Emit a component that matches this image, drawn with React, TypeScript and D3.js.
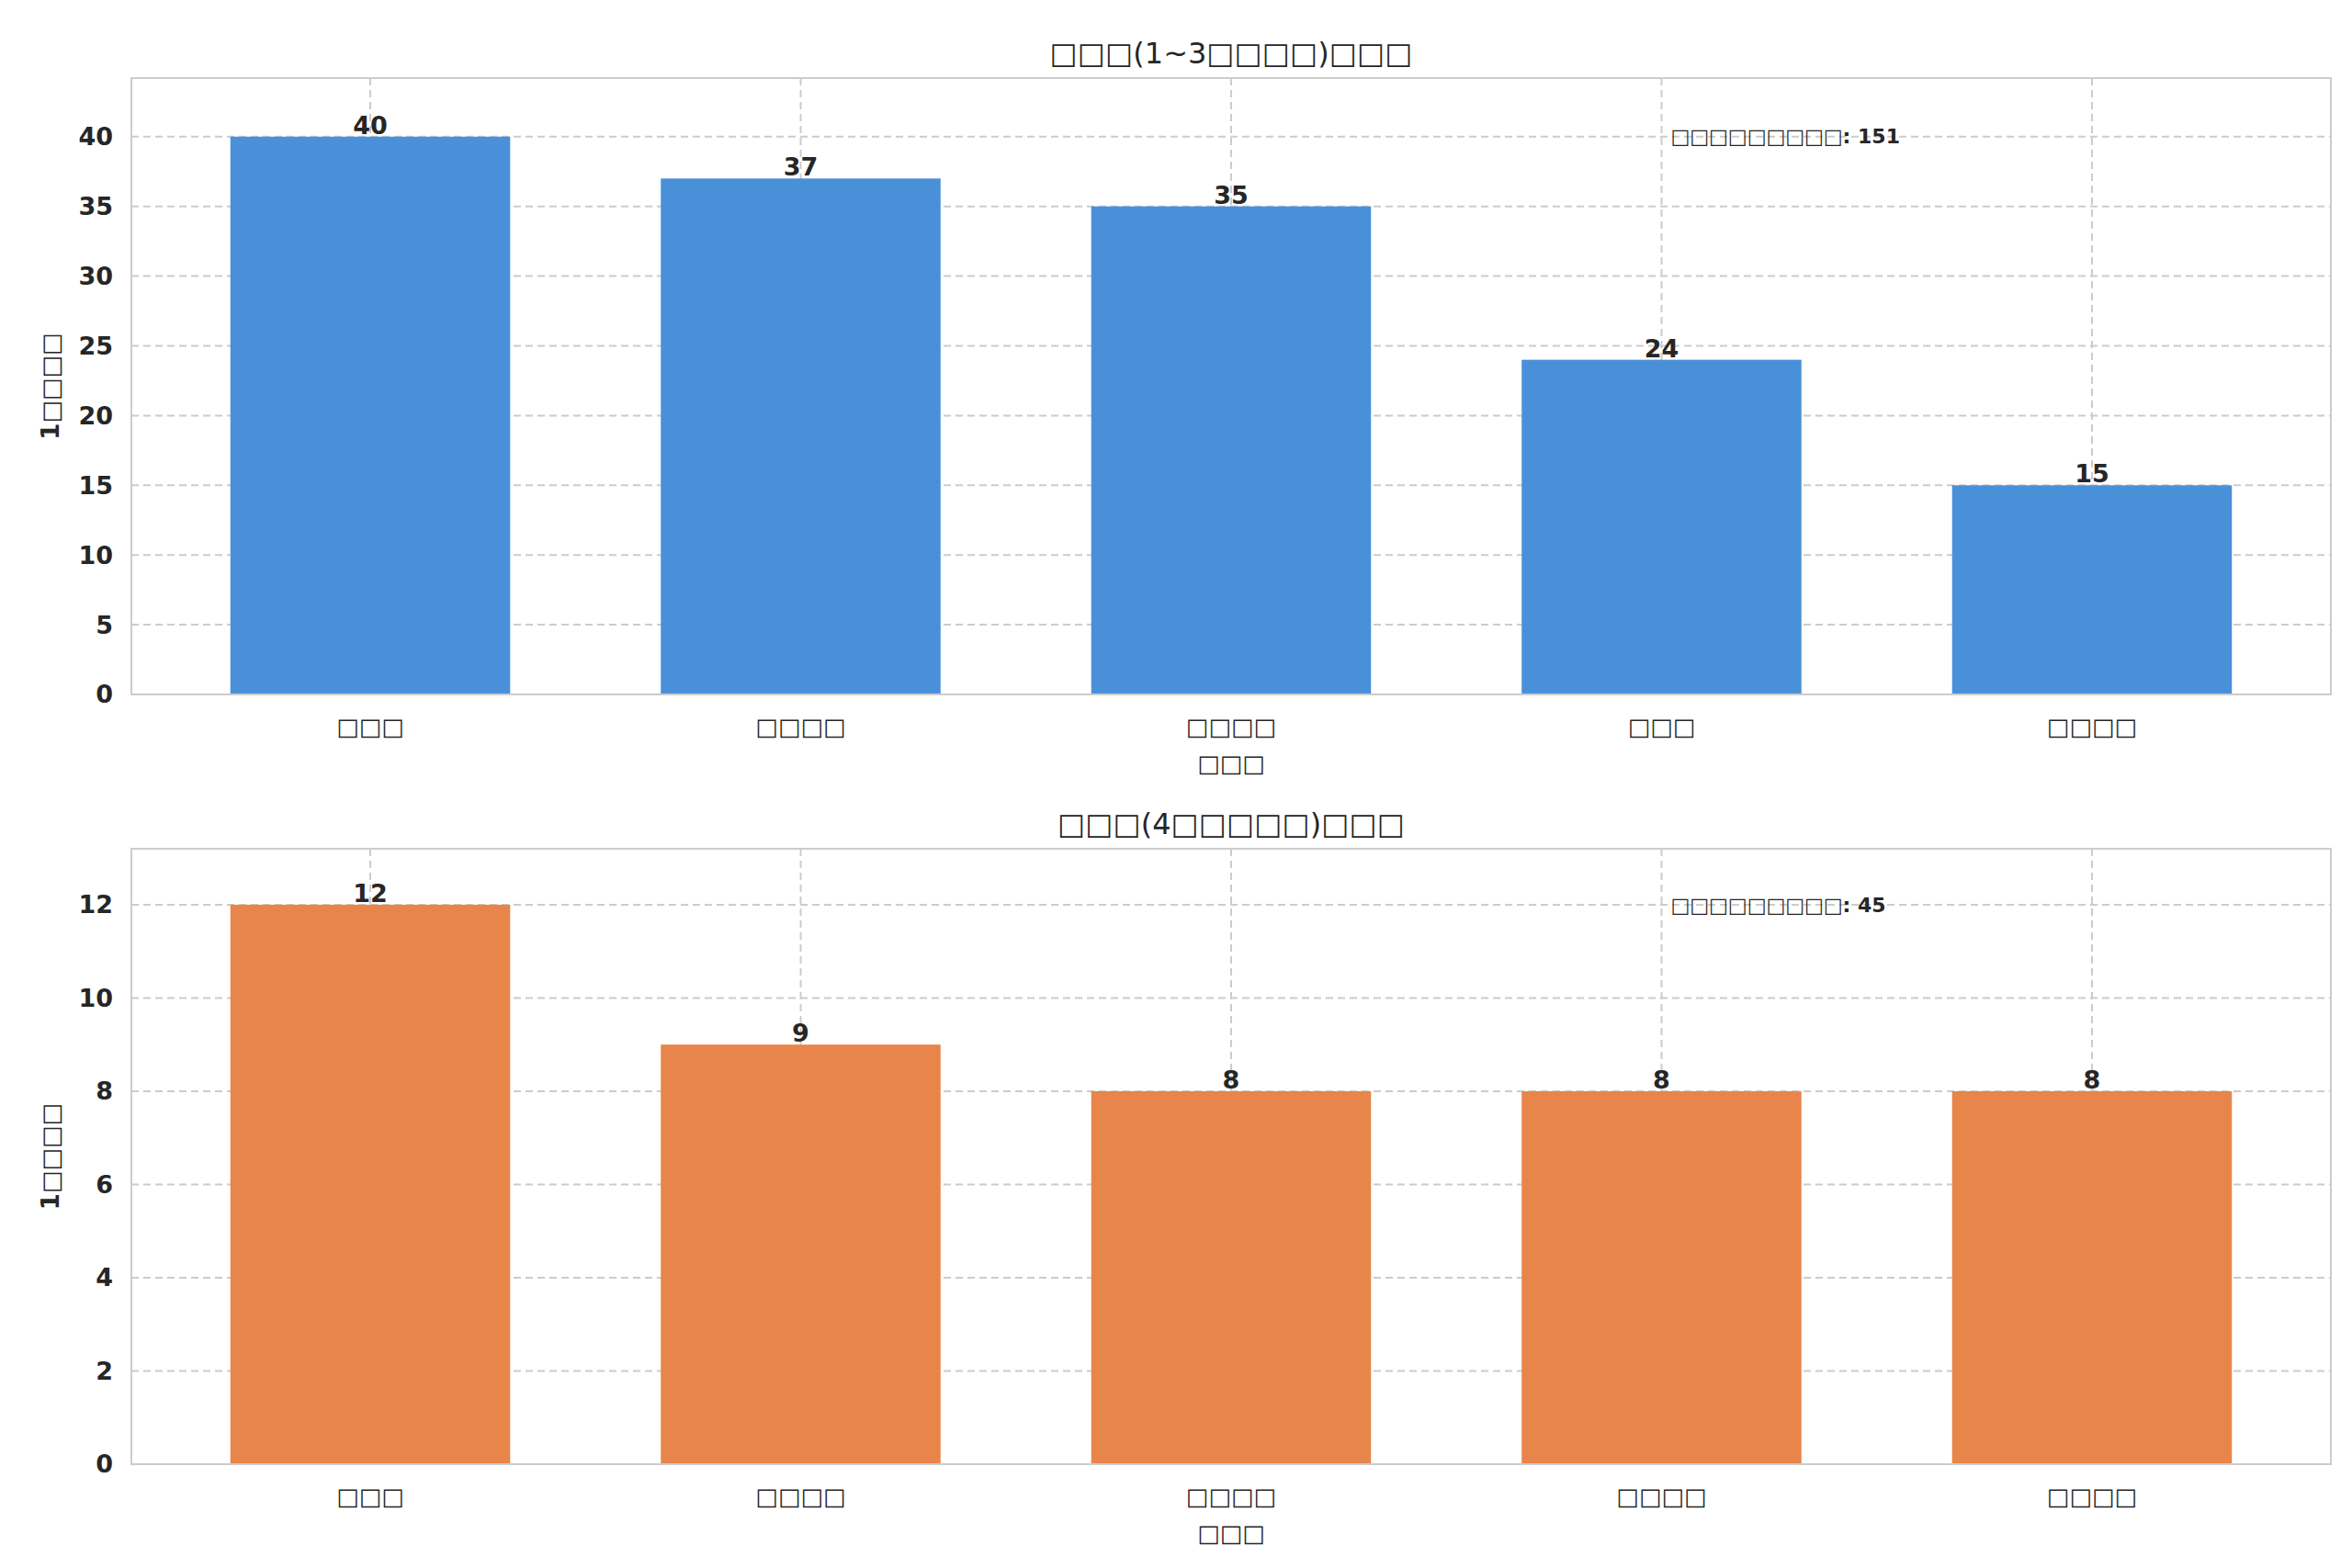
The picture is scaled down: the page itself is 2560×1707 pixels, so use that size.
import React from 'react';
import * as d3 from 'd3';

const B = '\u25A1';
const sq = (n: number) => B.repeat(n);

const topCats = [sq(3), sq(4), sq(4), sq(3), sq(4)];
const topVals = [40, 37, 35, 24, 15];
const topTicks = [0, 5, 10, 15, 20, 25, 30, 35, 40];
const botCats = [sq(3), sq(4), sq(4), sq(4), sq(4)];
const botVals = [12, 9, 8, 8, 8];
const botTicks = [0, 2, 4, 6, 8, 10, 12];

const W = 2560, H = 1707;
const font = '"DejaVu Sans", sans-serif';
const txt = '#262626';

function Panel({ top, bottom, cats, vals, ticks, ymax, color, title, note }: any) {
  const left = 135, right = 2529;
  const x = d3.scaleLinear().domain([-0.555, cats.length - 1 + 0.555]).range([left, right]);
  const y = d3.scaleLinear().domain([0, ymax]).range([bottom, top]);
  const bw = (x(1) - x(0)) * 0.65;
  const dash = '8,5';
  return (
    <g fontFamily={font}>
      {ticks.map((t: number) => (
        <line key={'gy' + t} x1={left} x2={right} y1={y(t)} y2={y(t)} stroke="#cccccc" strokeWidth={2} strokeDasharray={dash} />
      ))}
      {cats.map((_: string, i: number) => (
        <line key={'gx' + i} x1={x(i)} x2={x(i)} y1={top} y2={bottom} stroke="#cccccc" strokeWidth={2} strokeDasharray={dash} />
      ))}
      {vals.map((v: number, i: number) => (
        <g key={'b' + i}>
          <rect x={x(i) - bw / 2} y={y(v)} width={bw} height={y(0) - y(v)} fill={color} />
          <text x={x(i)} y={y(v) - 3} textAnchor="middle" fontSize={27} fontWeight="bold" fill={txt}>{v}</text>
          <text x={x(i)} y={bottom + 44} textAnchor="middle" fontSize={26} fill={txt}>{cats[i]}</text>
        </g>
      ))}
      <rect x={left} y={top} width={right - left} height={bottom - top} fill="none" stroke="#cccccc" strokeWidth={2} />
      {ticks.map((t: number) => (
        <text key={'ty' + t} x={left - 20} y={y(t)} dy="0.35em" textAnchor="end" fontSize={27} fontWeight="bold" fill={txt}>{t}</text>
      ))}
      <text x={(left + right) / 2} y={top - 16} textAnchor="middle" fontSize={32} fill={txt}>{title}</text>
      <text x={(left + right) / 2} y={bottom + 84} textAnchor="middle" fontSize={26} fill={txt}>{sq(3)}</text>
      <text transform={`translate(56,${(top + bottom) / 2}) rotate(-90)`} textAnchor="middle" fontSize={26} fontWeight="bold" fill={txt}>{'1' + sq(4)}</text>
      <text x={x(3) + 10} y={y(vals[0])} dy="0.35em" fontSize={22} fontWeight="bold" fill={txt}>{note}</text>
    </g>
  );
}

export default function App() {
  return (
    <svg width={W} height={H} style={{ display: 'block', background: '#fff' }}>
      <Panel top={77} bottom={748} cats={topCats} vals={topVals} ticks={topTicks} ymax={44.2} color="#4a90d9"
        title={`${sq(3)}(1~3${sq(4)})${sq(3)}`} note={`${sq(9)}: 151`} />
      <Panel top={916} bottom={1586} cats={botCats} vals={botVals} ticks={botTicks} ymax={13.2} color="#e8854a"
        title={`${sq(3)}(4${sq(5)})${sq(3)}`} note={`${sq(9)}: 45`} />
    </svg>
  );
}
